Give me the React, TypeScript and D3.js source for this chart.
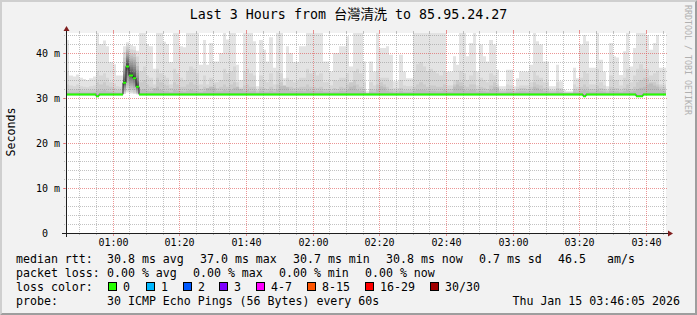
import React from 'react';
import * as d3 from 'd3';

// ---------- data ----------
const START = Date.UTC(2026, 0, 15, 0, 46, 0); // 00:46
const STEP_MS = 60000; // one ping round per minute
const N_STEPS = 180; // 3 hours
const Y_MAX = 44.44; // ms at top of plot

// median rtt per minute (ms)
const median: number[] = [
  30.8, 30.8, 30.8, 30.8, 30.8, 30.8, 30.8, 30.8, 30.8, 30.4, 30.8, 30.8, 30.8, 30.8, 30.8, 30.8, 30.8, 33.4, 37.0, 35.0,
  34.4, 32.5, 30.8, 30.8, 30.8, 30.8, 30.8, 30.8, 30.8, 30.8, 30.8, 30.8, 30.8, 30.8, 30.8, 30.8, 30.8, 30.8, 30.8, 30.8,
  30.8, 30.8, 30.8, 30.8, 30.8, 30.8, 30.8, 30.8, 30.8, 30.8, 30.8, 30.8, 30.8, 30.8, 30.8, 30.8, 30.8, 30.8, 30.8, 30.8,
  30.8, 30.8, 30.8, 30.8, 30.8, 30.8, 30.8, 30.8, 30.8, 30.8, 30.8, 30.8, 30.8, 30.8, 30.8, 30.8, 30.8, 30.8, 30.8, 30.8,
  30.8, 30.8, 30.8, 30.8, 30.8, 30.8, 30.8, 30.8, 30.8, 30.8, 30.8, 30.8, 30.8, 30.8, 30.8, 30.8, 30.8, 30.8, 30.8, 30.8,
  30.8, 30.8, 30.8, 30.8, 30.8, 30.8, 30.8, 30.8, 30.8, 30.8, 30.8, 30.8, 30.8, 30.8, 30.8, 30.8, 30.8, 30.8, 30.8, 30.8,
  30.8, 30.8, 30.8, 30.8, 30.8, 30.8, 30.8, 30.8, 30.8, 30.8, 30.8, 30.8, 30.8, 30.8, 30.8, 30.8, 30.8, 30.8, 30.8, 30.8,
  30.8, 30.8, 30.8, 30.8, 30.8, 30.8, 30.8, 30.8, 30.8, 30.8, 30.8, 30.8, 30.8, 30.8, 30.8, 30.4, 30.8, 30.8, 30.8, 30.8,
  30.8, 30.8, 30.8, 30.8, 30.8, 30.8, 30.8, 30.8, 30.8, 30.8, 30.8, 30.4, 30.4, 30.8, 30.8, 30.8, 30.8, 30.8, 30.8, 30.8,
];

// slowest ping per minute (outer smoke)
const smokeMax: number[] = [
  42.9, 35.0, 34.8, 35.2, 34.5, 34.2, 34.0, 34.4, 34.8, 45.0, 42.0, 42.8, 41.5, 38.0, 37.5, 35.0, 35.0, 41.5, 42.0, 41.8,
  41.5, 40.5, 45.0, 45.0, 42.0, 41.5, 36.5, 45.0, 45.0, 42.5, 42.0, 38.0, 45.0, 45.0, 41.5, 41.3, 45.0, 45.0, 45.0, 45.0,
  37.4, 42.9, 37.4, 42.2, 38.1, 38.1, 40.0, 45.0, 43.0, 45.0, 45.0, 37.4, 34.0, 45.0, 45.0, 45.0, 42.6, 32.6, 42.9, 40.7,
  38.1, 43.5, 36.7, 45.0, 45.0, 34.4, 41.5, 40.0, 38.0, 38.0, 41.5, 41.5, 45.0, 45.0, 45.0, 45.0, 45.0, 38.1, 38.1, 35.9,
  40.0, 40.0, 41.5, 41.5, 43.7, 37.0, 45.0, 45.0, 45.0, 38.1, 31.5, 38.1, 35.9, 45.0, 41.1, 41.1, 41.5, 39.6, 33.7, 33.7,
  39.6, 35.9, 34.4, 34.4, 45.0, 45.0, 45.0, 45.0, 45.0, 45.0, 45.0, 45.0, 45.0, 45.0, 35.9, 35.9, 39.3, 37.4, 45.0, 45.0,
  39.3, 42.2, 45.0, 35.9, 41.9, 39.3, 38.1, 42.9, 41.9, 36.3, 32.6, 32.6, 36.3, 36.3, 32.6, 34.4, 35.9, 35.9, 35.9, 37.4,
  45.0, 42.6, 41.9, 38.1, 38.1, 32.6, 32.6, 37.4, 33.7, 31.8, 31.5, 31.5, 36.7, 34.4, 41.9, 44.0, 42.6, 36.7, 36.7, 45.0,
  38.5, 35.9, 32.6, 42.2, 39.3, 39.0, 35.1, 40.4, 45.0, 37.0, 41.1, 45.0, 45.0, 45.0, 44.0, 40.7, 42.2, 44.0, 36.7, 36.7,
];

// second slowest ping per minute
const smokeP2: number[] = [
  36.0, 32.8, 32.6, 33.0, 32.6, 32.5, 32.4, 32.6, 32.8, 36.0, 35.0, 35.5, 34.5, 33.5, 33.2, 32.6, 32.5, 38.0, 40.0, 39.0,
  38.5, 37.0, 36.0, 37.0, 35.0, 34.5, 33.0, 36.5, 35.5, 35.0, 34.5, 33.0, 36.5, 35.5, 34.5, 34.0, 36.0, 37.0, 36.5, 35.5,
  33.0, 35.0, 33.0, 34.5, 33.5, 33.5, 34.0, 36.5, 35.5, 36.0, 37.0, 33.5, 32.4, 36.0, 36.5, 35.5, 35.0, 31.8, 35.0, 34.0,
  33.5, 35.5, 33.0, 36.0, 35.5, 32.6, 34.5, 34.0, 33.5, 33.8, 34.5, 34.5, 36.5, 35.5, 36.0, 35.0, 35.5, 33.5, 33.5, 32.8,
  34.0, 33.8, 34.5, 34.5, 35.5, 33.2, 36.0, 36.5, 35.5, 33.5, 31.1, 33.5, 32.8, 36.0, 34.5, 34.5, 34.5, 33.8, 32.2, 32.2,
  34.0, 32.8, 32.6, 32.6, 36.0, 37.5, 38.0, 37.0, 36.0, 36.5, 36.0, 35.5, 35.0, 36.0, 32.8, 32.8, 34.0, 33.5, 36.0, 35.5,
  34.0, 35.0, 36.0, 32.8, 34.5, 34.0, 33.5, 35.5, 35.0, 33.0, 31.8, 31.8, 33.0, 32.8, 31.8, 32.5, 32.8, 32.8, 32.8, 33.5,
  36.0, 35.0, 34.5, 33.5, 33.5, 31.8, 31.8, 33.5, 32.2, 31.3, 31.2, 31.2, 33.0, 32.5, 34.5, 36.0, 35.5, 33.0, 33.0, 36.5,
  33.5, 32.8, 31.8, 35.0, 34.0, 34.0, 32.8, 34.5, 36.5, 33.5, 35.0, 36.5, 37.5, 36.5, 36.5, 35.0, 35.5, 36.0, 33.0, 33.0,
];

// third slowest ping per minute
const smokeP3: number[] = [
  33.0, 31.9, 31.8, 32.0, 31.8, 31.7, 31.7, 31.8, 31.9, 33.5, 33.0, 33.5, 32.8, 32.5, 32.2, 31.8, 31.9, 33.0, 34.0, 33.0,
  33.0, 32.0, 33.5, 34.0, 33.0, 32.5, 32.0, 34.5, 33.5, 33.0, 32.8, 32.2, 33.5, 33.0, 32.5, 32.5, 33.0, 33.5, 33.0, 32.8,
  32.0, 32.5, 32.0, 32.5, 33.0, 32.2, 32.5, 33.0, 32.5, 33.0, 33.5, 32.2, 31.8, 32.8, 33.0, 32.5, 32.5, 31.6, 32.5, 32.2,
  32.0, 32.5, 32.0, 33.0, 33.5, 32.0, 32.5, 32.5, 32.2, 32.3, 32.5, 32.5, 33.0, 32.5, 32.5, 32.3, 32.5, 32.0, 32.0, 31.8,
  32.2, 32.0, 32.5, 32.3, 33.0, 33.5, 34.0, 33.0, 32.5, 32.0, 31.1, 32.0, 31.8, 33.0, 33.5, 33.0, 32.5, 32.0, 31.7, 31.7,
  32.3, 31.8, 31.8, 31.8, 32.5, 33.0, 33.5, 33.0, 32.5, 32.8, 32.8, 32.5, 32.5, 33.0, 32.0, 32.0, 33.0, 34.0, 33.5, 32.8,
  32.5, 33.0, 33.0, 32.0, 32.5, 32.3, 32.0, 32.8, 33.5, 32.5, 31.6, 31.6, 32.0, 32.0, 31.6, 32.0, 32.2, 32.2, 32.0, 32.5,
  33.5, 33.0, 32.8, 32.3, 32.3, 31.6, 31.6, 32.2, 31.8, 31.2, 31.2, 31.2, 32.0, 31.8, 32.5, 33.0, 32.5, 32.0, 32.0, 32.8,
  32.2, 32.0, 31.6, 32.5, 32.3, 32.2, 31.8, 32.3, 33.0, 32.0, 32.5, 33.5, 34.0, 34.5, 34.5, 33.5, 33.5, 33.0, 32.5, 32.5,
];

// fourth slowest ping per minute
const smokeP4: number[] = [
  31.5, 31.2, 31.2, 31.3, 31.2, 31.2, 31.2, 31.2, 31.3, 31.8, 31.6, 31.8, 31.5, 31.4, 31.3, 31.2, 31.2, 32.0, 33.0, 32.0,
  32.0, 31.5, 31.8, 32.0, 31.6, 31.5, 32.2, 32.5, 31.8, 31.5, 31.5, 31.3, 31.8, 31.6, 31.5, 31.4, 31.6, 31.8, 31.6, 31.5,
  31.3, 31.5, 32.2, 32.5, 32.3, 31.5, 31.5, 31.8, 31.6, 31.8, 32.3, 32.5, 32.0, 31.6, 31.8, 31.5, 31.6, 31.2, 31.6, 31.4,
  31.4, 31.6, 31.4, 31.8, 32.6, 32.8, 32.4, 31.6, 31.5, 31.5, 31.6, 31.5, 31.8, 31.6, 31.6, 31.5, 31.6, 31.4, 31.4, 31.3,
  31.4, 31.4, 31.6, 31.5, 31.8, 32.5, 32.8, 31.8, 31.6, 31.4, 31.0, 31.4, 31.3, 31.8, 32.6, 32.4, 31.6, 31.4, 31.2, 31.2,
  31.5, 31.3, 31.3, 31.3, 31.6, 31.8, 31.8, 31.8, 31.6, 31.6, 31.6, 31.5, 31.5, 31.8, 31.4, 31.4, 32.5, 33.0, 32.6, 31.8,
  31.6, 31.8, 31.8, 31.4, 31.6, 31.5, 31.4, 31.8, 32.5, 32.3, 31.2, 31.2, 31.4, 31.4, 31.2, 31.4, 31.5, 31.5, 31.4, 31.6,
  32.5, 32.3, 31.8, 31.5, 31.5, 31.2, 31.2, 31.5, 31.3, 31.1, 31.1, 31.1, 31.4, 31.3, 31.6, 31.8, 31.6, 31.4, 31.4, 31.8,
  31.5, 31.4, 31.2, 31.6, 31.5, 31.5, 31.3, 31.5, 31.8, 31.4, 31.6, 32.0, 32.3, 32.5, 33.0, 33.2, 32.8, 32.5, 31.8, 31.6,
];

// fastest ping (bottom of smoke)
const MIN_RTT = 30.6;

// minutes of the latency spike, all 30 pings sorted (ms)
const spikePings: Record<number, number[]> = {
  17: [30.9, 31.0, 31.2, 31.4, 31.6, 31.9, 32.2, 32.5, 32.7, 32.9, 33.0, 33.1, 33.2, 33.3, 33.4, 33.4, 33.6, 33.8, 34.0, 34.3, 34.6, 35.0, 35.4, 35.9, 36.5, 37.2, 38.0, 39.0, 40.2, 41.5],
  18: [31.2, 31.6, 32.2, 32.8, 33.4, 34.0, 34.5, 35.0, 35.5, 35.9, 36.2, 36.5, 36.7, 36.9, 37.0, 37.0, 37.2, 37.5, 37.8, 38.1, 38.4, 38.7, 39.0, 39.4, 39.8, 40.3, 40.8, 41.3, 41.8, 42.4],
  19: [31.0, 31.3, 31.7, 32.1, 32.6, 33.0, 33.4, 33.8, 34.1, 34.4, 34.6, 34.8, 34.9, 35.0, 35.0, 35.0, 35.2, 35.5, 35.8, 36.1, 36.5, 36.9, 37.3, 37.8, 38.3, 38.8, 39.4, 40.0, 40.8, 41.8],
  20: [30.9, 31.1, 31.4, 31.8, 32.2, 32.6, 33.0, 33.4, 33.7, 34.0, 34.1, 34.2, 34.3, 34.4, 34.4, 34.4, 34.6, 34.9, 35.2, 35.6, 36.0, 36.4, 36.9, 37.4, 37.9, 38.5, 39.1, 39.8, 40.6, 41.5],
  21: [30.8, 30.9, 31.0, 31.1, 31.3, 31.5, 31.7, 31.9, 32.1, 32.2, 32.3, 32.4, 32.5, 32.5, 32.5, 32.5, 32.6, 32.8, 33.0, 33.3, 33.6, 34.0, 34.5, 35.0, 35.6, 36.3, 37.1, 38.0, 39.2, 40.5],
};

const yMajorTicks = [0, 10, 20, 30, 40];

const medianLegendLabels = ['median rtt:', '30.8 ms avg', '37.0 ms max', '30.7 ms min', '30.8 ms now', '0.7 ms sd', '46.5', 'am/s'];
const lossLegendLabels = ['packet loss:', '0.00 % avg', '0.00 % max', '0.00 % min', '0.00 % now'];
const lossColorLabels = ['0', '1', '2', '3', '4-7', '8-15', '16-29', '30/30'];
const lossColors = ['#26ff00', '#00b8ff', '#0059ff', '#7e00ff', '#ff00ff', '#ff5500', '#ff0000', '#a10000'];
const probeText = '30 ICMP Echo Pings (56 Bytes) every 60s';
const dateText = 'Thu Jan 15 03:46:05 2026';
const titleText = 'Last 3 Hours from 台灣清洗 to 85.95.24.27';

// ---------- layout ----------
const W = 697;
const H = 315;
const PL = 66;
const PR = 666;
const PT = 33;
const PB = 233;
const FONT = "'DejaVu Sans Mono', 'Noto Sans CJK TC', monospace";

const medianLegendX = [16, 107, 200, 293, 386, 479, 558, 607];
const lossLegendX = [16, 107, 193, 279, 365];
const lossBoxX = [108, 146, 183, 219, 256, 307, 365, 430];

type Col = { x0: number; x1: number; lo: number; hi: number };

export default function App() {
  const x = d3
    .scaleUtc()
    .domain([new Date(START), new Date(START + N_STEPS * STEP_MS)])
    .range([PL, PR]);
  const y = d3.scaleLinear().domain([0, Y_MAX]).range([PB, PT]);

  const colX0 = (i: number) => Math.round(x(new Date(START + i * STEP_MS)));
  const colX1 = (i: number) => Math.round(x(new Date(START + (i + 1) * STEP_MS)));

  const bandPath = (cols: Col[]) => {
    if (!cols.length) return '';
    let d = `M${cols[0].x0},${y(cols[0].hi)}`;
    cols.forEach((c) => {
      d += `L${c.x0},${y(c.hi)}L${c.x1},${y(c.hi)}`;
    });
    for (let j = cols.length - 1; j >= 0; j--) {
      const c = cols[j];
      d += `L${c.x1},${y(c.lo)}L${c.x0},${y(c.lo)}`;
    }
    return d + 'Z';
  };

  const outer = [smokeMax, smokeP2, smokeP3, smokeP4];
  const NL = 15;
  const layers: { d: string; color: string }[] = [];
  for (let k = 0; k < NL; k++) {
    const runs: Col[][] = [];
    let cur: Col[] = [];
    for (let i = 0; i < N_STEPS; i++) {
      let lo = NaN;
      let hi = NaN;
      const p = spikePings[i];
      if (p) {
        lo = p[k];
        hi = p[29 - k];
      } else if (k < outer.length) {
        lo = MIN_RTT;
        hi = outer[k][i];
      }
      if (!isNaN(lo)) {
        cur.push({ x0: colX0(i), x1: colX1(i), lo, hi });
      } else if (cur.length) {
        runs.push(cur);
        cur = [];
      }
    }
    if (cur.length) runs.push(cur);
    const shade = Math.floor((190 / NL) * (NL - (k + 1))) + 50;
    const hex = shade.toString(16).padStart(2, '0');
    layers.push({ d: runs.map(bandPath).join(' '), color: `#${hex}${hex}${hex}` });
  }

  // median
  let medLine = `M${colX0(0)},${y(median[0])}`;
  median.forEach((m, i) => {
    medLine += `L${colX0(i)},${y(m)}L${colX1(i)},${y(m)}`;
  });
  const sw = Y_MAX / (PB - PT);
  const medBars = bandPath(median.map((m, i) => ({ x0: colX0(i), x1: colX1(i), lo: m - sw, hi: m + sw })));

  // grids
  const hMinor = d3.range(2, Y_MAX, 2).filter((v) => v % 10 !== 0);
  const hMajor = yMajorTicks.filter((v) => v > 0);
  const vAll = x.ticks(d3.utcMinute.every(5) as any);
  const vMajor = vAll.filter((t) => t.getUTCMinutes() % 20 === 0);
  const vMinor = vAll.filter((t) => t.getUTCMinutes() % 20 !== 0);
  const fmt = d3.utcFormat('%H:%M');

  const gridCol = 'rgba(143,143,143,0.55)';
  const mgridCol = 'rgba(222,79,79,0.6)';
  const px = (v: number) => Math.round(v) + 0.5;

  return (
    <svg
      width={W}
      height={H}
      viewBox={`0 0 ${W} ${H}`}
      style={{ position: 'absolute', left: 0, top: 0, display: 'block' }}
      fontFamily={FONT}
    >
      <defs>
        <clipPath id="plotclip">
          <rect x={PL} y={PT} width={PR - PL} height={PB - PT} />
        </clipPath>
      </defs>
      {/* background and 3d border */}
      <rect x={0} y={0} width={W} height={H} fill="#f2f2f2" />
      <polygon points={`0,${H} 2,${H - 2} 2,2 ${W - 2},2 ${W},0 0,0`} fill="#cfcfcf" />
      <polygon points={`2,${H - 2} ${W - 2},${H - 2} ${W - 2},2 ${W},0 ${W},${H} 0,${H}`} fill="#9e9e9e" />
      {/* canvas */}
      <rect x={PL} y={PT} width={PR - PL} height={PB - PT} fill="#ffffff" />

      {/* smoke */}
      <g clipPath="url(#plotclip)">
        {layers.map((l, k) => (
          <path key={k} d={l.d} fill={l.color} />
        ))}
      </g>

      {/* minor grid */}
      <g stroke={gridCol} strokeWidth={1} fill="none">
        {hMinor.map((v) => (
          <g key={'hm' + v}>
            <line x1={PL - 2} x2={PR + 2} y1={px(y(v))} y2={px(y(v))} strokeDasharray="1,1" />
          </g>
        ))}
        {vMinor.map((t) => (
          <g key={'vm' + +t}>
            <line x1={px(x(t))} x2={px(x(t))} y1={PT} y2={PB} strokeDasharray="1,1" />
            <line x1={px(x(t))} x2={px(x(t))} y1={PB} y2={PB + 2} />
            <line x1={px(x(t))} x2={px(x(t))} y1={PT - 2} y2={PT} />
          </g>
        ))}
      </g>
      {/* major grid */}
      <g stroke={mgridCol} strokeWidth={1} fill="none">
        {hMajor.map((v) => (
          <g key={'hM' + v}>
            <line x1={PL - 2} x2={PR + 2} y1={px(y(v))} y2={px(y(v))} strokeDasharray="1,1" />
            <line x1={PL - 3} x2={PL} y1={px(y(v))} y2={px(y(v))} />
          </g>
        ))}
        {vMajor.map((t) => (
          <g key={'vM' + +t}>
            <line x1={px(x(t))} x2={px(x(t))} y1={PT} y2={PB} strokeDasharray="1,1" />
            <line x1={px(x(t))} x2={px(x(t))} y1={PB} y2={PB + 3} />
            <line x1={px(x(t))} x2={px(x(t))} y1={PT - 3} y2={PT} />
          </g>
        ))}
      </g>

      {/* median */}
      <g clipPath="url(#plotclip)">
        <path d={medLine} fill="none" stroke="#202020" strokeWidth={1} />
        <path d={medBars} fill={lossColors[0]} />
      </g>

      {/* axes */}
      <line x1={PL - 4} x2={PR + 4} y1={PB + 0.5} y2={PB + 0.5} stroke="#1f1f1f" strokeWidth={1} />
      <line x1={PL + 0.5} x2={PL + 0.5} y1={PB + 4} y2={PT - 4} stroke="#1f1f1f" strokeWidth={1} />
      <polygon points={`${PR + 2},${PB + 0.5 - 3} ${PR + 2},${PB + 0.5 + 3} ${PR + 7},${PB + 0.5}`} fill="#801f1f" />
      <polygon points={`${PL + 0.5 - 3},${PT - 2} ${PL + 0.5 + 3},${PT - 2} ${PL + 0.5},${PT - 7}`} fill="#801f1f" />

      {/* y labels */}
      <g fontSize={10} fill="#000">
        {yMajorTicks.map((v) => (
          <text key={'yl' + v} x={36} y={px(y(v)) + 3.5} xmlSpace="preserve" style={{ whiteSpace: 'pre' }}>
            {v === 0 ? ' 0' : `${v} m`}
          </text>
        ))}
      </g>
      {/* x labels */}
      <g fontSize={10} fill="#000" textAnchor="middle">
        {vMajor.map((t) => (
          <text key={'xl' + +t} x={px(x(t))} y={246}>
            {fmt(t)}
          </text>
        ))}
      </g>

      {/* title */}
      <text x={348.5} y={19} textAnchor="middle" fontSize={13.3} fill="#000">
        {titleText}
      </text>
      {/* y axis title */}
      <text transform="translate(15,132) rotate(-90)" textAnchor="middle" fontSize={11.6} fill="#000">
        Seconds
      </text>
      {/* watermark */}
      <text transform="translate(685,5) rotate(90)" fontSize={8.3} fill="#b0b0b0">
        RRDTOOL / TOBI OETIKER
      </text>

      {/* legend */}
      <g fontSize={11.6} fill="#000">
        {medianLegendLabels.map((s, i) => (
          <text key={'ml' + i} x={medianLegendX[i]} y={263}>
            {s}
          </text>
        ))}
        {lossLegendLabels.map((s, i) => (
          <text key={'ll' + i} x={lossLegendX[i]} y={277}>
            {s}
          </text>
        ))}
        <text x={16} y={291}>
          loss color:
        </text>
        {lossColorLabels.map((s, i) => (
          <g key={'lc' + i}>
            <rect x={lossBoxX[i] + 0.5} y={282.5} width={8} height={8} fill={lossColors[i]} stroke="#000" strokeWidth={1} />
            <text x={lossBoxX[i] + 15} y={291}>
              {s}
            </text>
          </g>
        ))}
        <text x={16} y={305}>
          probe:
        </text>
        <text x={107} y={305}>
          {probeText}
        </text>
        <text x={680} y={305} textAnchor="end">
          {dateText}
        </text>
      </g>
    </svg>
  );
}
